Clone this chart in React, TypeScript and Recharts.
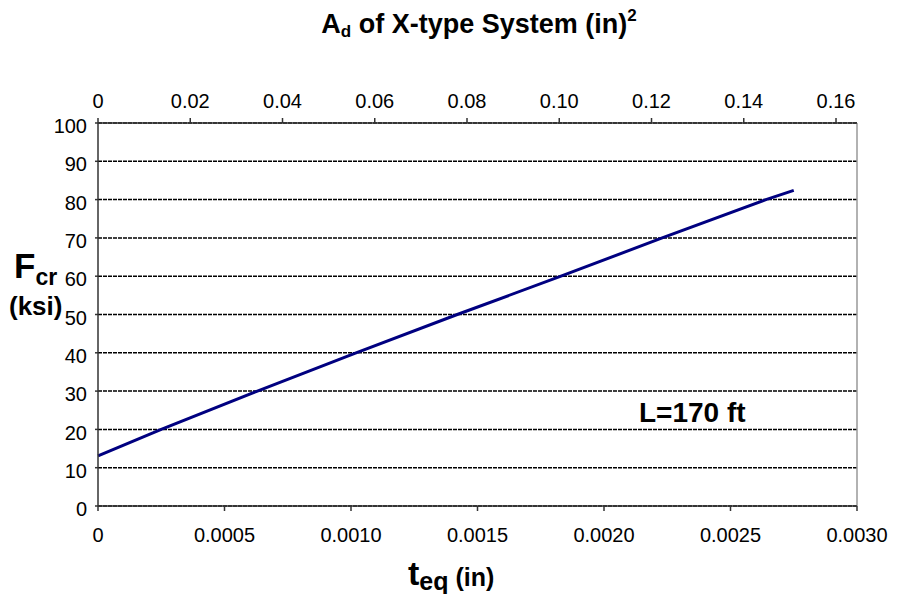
import { LineChart, Line, XAxis, YAxis, CartesianGrid, ReferenceLine } from 'recharts'

// F_cr (ksi) at its t_eq (in) positions
const tValues = [0, 0.00025, 0.00063, 0.00102, 0.00142, 0.00183, 0.00223, 0.00264, 0.00275]
const fcrValues = [13.1, 20, 30, 40, 50, 60, 70, 80, 82.4]

const bottomTicks = [0, 0.0005, 0.001, 0.0015, 0.002, 0.0025, 0.003]
const topTicks = [0, 0.02, 0.04, 0.06, 0.08, 0.1, 0.12, 0.14, 0.16]
const yTicks = [0, 10, 20, 30, 40, 50, 60, 70, 80, 90, 100]

const data = tValues.map((t, i) => ({ t, fcr: fcrValues[i] }))

const FONT = '"Liberation Sans", Arial, sans-serif'
const tickStyle = { fontSize: 20, fill: '#000', fontFamily: FONT }

export default function App() {
  return (
    <div style={{ position: 'absolute', left: 0, top: 0, width: 902, height: 594, background: '#fff', fontFamily: FONT }}>
      <LineChart width={902} height={594} data={data} margin={{ top: 83, right: 45, bottom: 48, left: 38 }}>
        <CartesianGrid
          xAxisId="bottom"
          yAxisId="left"
          vertical={false}
          stroke="#000"
          strokeWidth={1.5}
          strokeDasharray="4 1"
        />
        <XAxis
          xAxisId="bottom"
          dataKey="t"
          type="number"
          orientation="bottom"
          domain={[0, 0.003]}
          ticks={bottomTicks}
          interval={0}
          tickFormatter={v => (v === 0 ? '0' : v.toFixed(4))}
          height={40}
          tickSize={5}
          tickMargin={17}
          tick={tickStyle}
          axisLine={{ stroke: '#333', strokeWidth: 1.5 }}
          tickLine={{ stroke: '#333', strokeWidth: 1.5 }}
        />
        <XAxis
          xAxisId="top"
          dataKey="t"
          type="number"
          orientation="top"
          domain={[0, 0.16455]}
          allowDataOverflow
          ticks={topTicks}
          interval={0}
          tickFormatter={v => (v === 0 ? '0' : v.toFixed(2))}
          height={40}
          tickSize={5}
          tickMargin={10}
          tick={tickStyle}
          axisLine={{ stroke: '#333', strokeWidth: 1.5 }}
          tickLine={{ stroke: '#333', strokeWidth: 1.5 }}
        />
        <YAxis
          yAxisId="left"
          type="number"
          domain={[0, 100]}
          ticks={yTicks}
          interval={0}
          width={60}
          tickSize={3}
          tickMargin={8}
          tick={{ ...tickStyle, dy: 3 }}
          axisLine={{ stroke: '#333', strokeWidth: 1.5 }}
          tickLine={{ stroke: '#333', strokeWidth: 1.5 }}
        />
        <ReferenceLine xAxisId="bottom" yAxisId="left" x={0.003} stroke="#999" strokeWidth={1.5} />
        <Line
          xAxisId="bottom"
          yAxisId="left"
          type="linear"
          dataKey="fcr"
          stroke="#000080"
          strokeWidth={3}
          dot={false}
          isAnimationActive={false}
        />
      </LineChart>
      <svg
        width={902}
        height={594}
        style={{ position: 'absolute', left: 0, top: 0, pointerEvents: 'none' }}
        fontFamily={FONT}
        fontWeight="bold"
        fill="#000"
      >
        <text x={479} y={33} fontSize={27} textAnchor="middle">
          A<tspan fontSize={17} dy={4}>d</tspan>
          <tspan dy={-4}> of X-type System (in)</tspan>
          <tspan fontSize={17} dy={-12}>2</tspan>
        </text>
        <text x={14} y={278} fontSize={35}>
          F<tspan fontSize={23} dy={7}>cr</tspan>
        </text>
        <text x={9} y={315} fontSize={26}>(ksi)</text>
        <text x={408} y={585} fontSize={34}>
          t<tspan fontSize={25} dy={5}>eq</tspan>
          <tspan fontSize={25} dy={-4}> (in)</tspan>
        </text>
        <text x={639} y={422} fontSize={28}>L=170 ft</text>
      </svg>
    </div>
  )
}
